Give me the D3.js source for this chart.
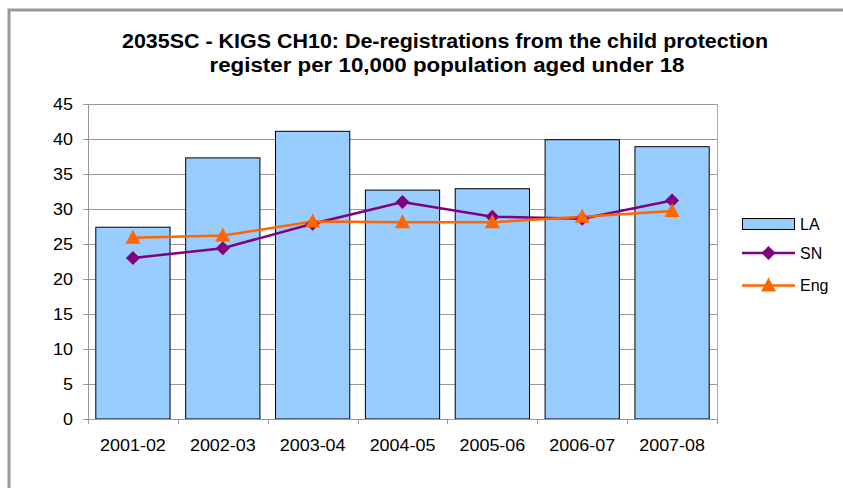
<!DOCTYPE html>
<meta charset="utf-8">
<script src="https://d3js.org/d3.v7.min.js"></script>
<style>
    body { margin: 0; background: #fff; }
    svg { display: block; font-family: "Liberation Sans", Arial, sans-serif; }
</style>
<body>
</body>
<script>
    // data
    var years = ["2001-02", "2002-03", "2003-04", "2004-05", "2005-06", "2006-07", "2007-08"];
    var la  = [27.4, 37.3, 41.1, 32.7, 32.9, 39.9, 38.9];
    var sn  = [23.0, 24.4, 27.9, 31.0, 28.9, 28.6, 31.2];
    var eng = [25.9, 26.2, 28.2, 28.1, 28.1, 28.9, 29.7];
    var yTicks = [0, 5, 10, 15, 20, 25, 30, 35, 40, 45];

    var W = 843, H = 488;
    var plot = {left: 88, top: 104, right: 717, bottom: 419};

    var svg = d3.select("body").append("svg")
        .attr("width", W)
        .attr("height", H);

    // outer chart border (only top and left visible, cropped)
    svg.append("path")
        .attr("d", "M9,488 V10 H843")
        .attr("fill", "none")
        .attr("stroke", "#999")
        .attr("stroke-width", 3);

    // title
    var title = svg.append("text")
        .attr("text-anchor", "middle")
        .attr("font-weight", "bold")
        .attr("font-size", 20)
        .attr("fill", "#000");
    title.append("tspan").attr("x", 445).attr("y", 48)
        .attr("textLength", 646).attr("lengthAdjust", "spacingAndGlyphs")
        .text("2035SC - KIGS CH10: De-registrations from the child protection");
    title.append("tspan").attr("x", 447).attr("y", 72)
        .attr("textLength", 475).attr("lengthAdjust", "spacingAndGlyphs")
        .text("register per 10,000 population aged under 18");

    var x = d3.scaleBand()
        .domain(years)
        .range([plot.left, plot.right])
        .padding(0);

    var y = d3.scaleLinear()
        .domain([0, 45])
        .range([plot.bottom, plot.top]);

    // gridlines
    svg.append("g")
        .selectAll("line")
        .data(yTicks)
        .join("line")
            .attr("x1", plot.left)
            .attr("x2", plot.right)
            .attr("y1", function(d) { return Math.round(y(d)) + 0.5; })
            .attr("y2", function(d) { return Math.round(y(d)) + 0.5; })
            .attr("stroke", "#999")
            .attr("stroke-width", 1);

    // right edge of plot area
    svg.append("line")
        .attr("x1", plot.right + 0.5).attr("x2", plot.right + 0.5)
        .attr("y1", plot.top).attr("y2", plot.bottom)
        .attr("stroke", "#aaa");

    // bars (gap width 21%)
    var barW = x.step() / 1.21;
    svg.append("g")
        .selectAll("rect")
        .data(la)
        .join("rect")
            .attr("x", function(d, i) { return x(years[i]) + (x.step() - barW) / 2; })
            .attr("y", function(d) { return y(d); })
            .attr("width", barW)
            .attr("height", function(d) { return y(0) - y(d); })
            .attr("fill", "#99CCFF")
            .attr("stroke", "#000")
            .attr("stroke-width", 1);

    // axes
    var yAxis = svg.append("g")
        .attr("transform", "translate(" + plot.left + ",0)")
        .call(d3.axisLeft(y).tickValues(yTicks).tickSize(5).tickPadding(10));
    var xAxis = svg.append("g")
        .attr("transform", "translate(0," + plot.bottom + ")")
        .call(d3.axisBottom(x).tickSize(0).tickPadding(21));

    // x ticks on category boundaries
    svg.append("g")
        .selectAll("line")
        .data(years.concat(["end"]))
        .join("line")
            .attr("x1", function(d, i) { return Math.round(plot.left + i * x.step()) + 0.5; })
            .attr("x2", function(d, i) { return Math.round(plot.left + i * x.step()) + 0.5; })
            .attr("y1", plot.bottom)
            .attr("y2", plot.bottom + 5)
            .attr("stroke", "#999");

    [yAxis, xAxis].forEach(function(g) {
        g.select(".domain").attr("stroke", "#999");
        g.selectAll(".tick line").attr("stroke", "#999");
        g.selectAll("text")
            .attr("font-family", "Liberation Sans, Arial, sans-serif")
            .attr("font-size", 16)
            .attr("fill", "#000")
            .each(function() {
                // the reference labels run a little wider than Liberation Sans
                var w = this.getComputedTextLength();
                d3.select(this).attr("textLength", w * 1.12).attr("lengthAdjust", "spacingAndGlyphs");
            });
    });

    var cx = function(d, i) { return x(years[i]) + x.bandwidth() / 2; };

    var line = d3.line()
        .x(function(d, i) { return cx(d, i); })
        .y(function(d) { return y(d); });

    // SN line
    svg.append("path")
        .datum(sn)
        .attr("d", line)
        .attr("fill", "none")
        .attr("stroke", "#800080")
        .attr("stroke-width", 2.5);

    // Eng line
    svg.append("path")
        .datum(eng)
        .attr("d", line)
        .attr("fill", "none")
        .attr("stroke", "#FF6600")
        .attr("stroke-width", 2.5);

    var diamond = "M0,-7 L7,0 L0,7 L-7,0 Z";
    var triangle = "M0,-8 L7.5,6 L-7.5,6 Z";

    svg.append("g")
        .selectAll("path")
        .data(sn)
        .join("path")
            .attr("d", diamond)
            .attr("transform", function(d, i) { return "translate(" + cx(d, i) + "," + y(d) + ")"; })
            .attr("fill", "#800080");

    svg.append("g")
        .selectAll("path")
        .data(eng)
        .join("path")
            .attr("d", triangle)
            .attr("transform", function(d, i) { return "translate(" + cx(d, i) + "," + y(d) + ")"; })
            .attr("fill", "#FF6600");

    // legend
    var lg = svg.append("g").attr("transform", "translate(742,0)");
    lg.append("rect")
        .attr("x", 0.5).attr("y", 218.5)
        .attr("width", 52).attr("height", 11)
        .attr("fill", "#99CCFF").attr("stroke", "#000");
    lg.append("line")
        .attr("x1", 0).attr("x2", 53).attr("y1", 253).attr("y2", 253)
        .attr("stroke", "#800080").attr("stroke-width", 2.5);
    lg.append("path").attr("d", diamond)
        .attr("transform", "translate(26.5,253)").attr("fill", "#800080");
    lg.append("line")
        .attr("x1", 0).attr("x2", 53).attr("y1", 285.5).attr("y2", 285.5)
        .attr("stroke", "#FF6600").attr("stroke-width", 2.5);
    lg.append("path").attr("d", triangle)
        .attr("transform", "translate(26.5,285.5)").attr("fill", "#FF6600");

    var names = ["LA", "SN", "Eng"];
    var ly = [224, 253, 285.5];
    lg.selectAll("text.lbl")
        .data(names)
        .join("text")
            .attr("class", "lbl")
            .attr("x", 58)
            .attr("y", function(d, i) { return ly[i]; })
            .attr("dy", "0.35em")
            .attr("font-size", 16)
            .attr("fill", "#000")
            .text(function(d) { return d; });
</script>
